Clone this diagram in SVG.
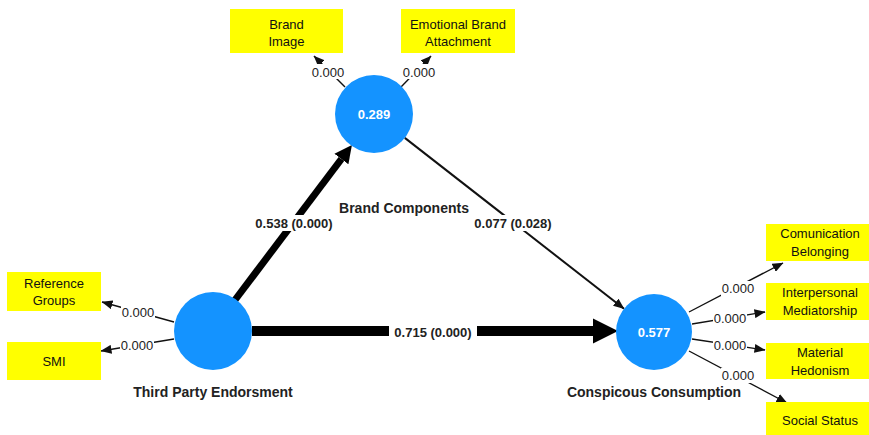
<svg xmlns="http://www.w3.org/2000/svg" width="869" height="435" viewBox="0 0 869 435">
<defs>
<style>
.box{fill:#ffff00;}
.bt{font-family:"Liberation Sans",Arial,sans-serif;font-size:13px;fill:#111;text-anchor:middle;}
.circ{fill:#1493ff;}
.cv{font-family:"Liberation Sans",Arial,sans-serif;font-size:13px;font-weight:bold;fill:#fff;text-anchor:middle;}
.nl{font-family:"Liberation Sans",Arial,sans-serif;font-size:14px;font-weight:bold;fill:#222;text-anchor:middle;}
.pl{font-family:"Liberation Sans",Arial,sans-serif;font-size:13px;font-weight:bold;fill:#222;text-anchor:middle;}
.ll{font-family:"Liberation Sans",Arial,sans-serif;font-size:13px;fill:#222;text-anchor:middle;}
.thin{stroke:#111;stroke-width:1.4;fill:none;}
.bg{fill:#fff;}
</style>
<marker id="ah" viewBox="0 0 11 9" refX="10.5" refY="4.5" markerWidth="11" markerHeight="9" markerUnits="userSpaceOnUse" orient="auto">
<path d="M0,0 L11,4.5 L0,9 z" fill="#111"/>
</marker>
<marker id="ahk" viewBox="0 0 10 10" refX="0" refY="5" markerWidth="2.5" markerHeight="2.6" markerUnits="strokeWidth" orient="auto">
<path d="M0,0 L10,5 L0,10 z" fill="#000"/>
</marker>
</defs>
<rect width="869" height="435" fill="#fff"/>

<g id="connectors">
<line x1="235" y1="300" x2="341.4" y2="159" stroke="#000" stroke-width="7" marker-end="url(#ahk)"/>
<line x1="252" y1="331" x2="593" y2="331" stroke="#000" stroke-width="10" marker-end="url(#ahk)"/>
<line x1="404.8" y1="137.9" x2="624" y2="308.7" stroke="#111" stroke-width="2" marker-end="url(#ah)"/>
<line class="thin" x1="345" y1="87" x2="314" y2="56" marker-end="url(#ah)"/>
<line class="thin" x1="401" y1="87" x2="431" y2="56" marker-end="url(#ah)"/>
<line class="thin" x1="174" y1="322" x2="102" y2="302" marker-end="url(#ah)"/>
<line class="thin" x1="174" y1="339" x2="101" y2="351" marker-end="url(#ah)"/>
<line class="thin" x1="689" y1="312" x2="783" y2="263" marker-end="url(#ah)"/>
<line class="thin" x1="692" y1="324" x2="765" y2="312" marker-end="url(#ah)"/>
<line class="thin" x1="692" y1="339" x2="765" y2="350" marker-end="url(#ah)"/>
<line class="thin" x1="689" y1="351" x2="787" y2="403" marker-end="url(#ah)"/>
<rect class="bg" x="254" y="215" width="80" height="16"/>
<text class="pl" x="294" y="228">0.538 (0.000)</text>
<rect class="bg" x="473" y="215" width="81" height="16"/>
<text class="pl" x="513" y="228">0.077 (0.028)</text>
<rect class="bg" x="389" y="322" width="88" height="18"/>
<text class="pl" x="433" y="337">0.715 (0.000)</text>
<rect class="bg" x="311" y="64" width="34" height="15"/>
<text class="ll" x="328" y="77">0.000</text>
<rect class="bg" x="402" y="64" width="34" height="15"/>
<text class="ll" x="419" y="77">0.000</text>
<rect class="bg" x="121" y="305" width="34" height="15"/>
<text class="ll" x="138" y="317">0.000</text>
<rect class="bg" x="120" y="338" width="34" height="15"/>
<text class="ll" x="137" y="350">0.000</text>
<rect class="bg" x="721" y="281" width="34" height="15"/>
<text class="ll" x="738" y="293">0.000</text>
<rect class="bg" x="713" y="311" width="34" height="15"/>
<text class="ll" x="730" y="323">0.000</text>
<rect class="bg" x="713" y="338" width="34" height="15"/>
<text class="ll" x="730" y="350">0.000</text>
<rect class="bg" x="721" y="368" width="34" height="15"/>
<text class="ll" x="738" y="380">0.000</text>
</g>

<g id="brand-components">
<circle class="circ" cx="374" cy="114" r="39"/>
<text class="cv" x="374" y="119">0.289</text>
<text class="nl" x="404" y="213">Brand Components</text>
</g>
<g id="third-party-endorsment">
<circle class="circ" cx="213" cy="331" r="39"/>
<text class="nl" x="213" y="397">Third Party Endorsment</text>
</g>
<g id="conspicous-consumption">
<circle class="circ" cx="654" cy="332" r="38"/>
<text class="cv" x="654" y="337">0.577</text>
<text class="nl" x="654" y="397">Conspicous Consumption</text>
</g>

<g id="brand-image">
<rect class="box" x="230" y="9" width="113" height="44"/>
<text class="bt" x="286.5" y="29">Brand</text>
<text class="bt" x="286.5" y="46">Image</text>
</g>
<g id="emotional-brand-attachment">
<rect class="box" x="401" y="9" width="114" height="44"/>
<text class="bt" x="458" y="29">Emotional Brand</text>
<text class="bt" x="458" y="46">Attachment</text>
</g>
<g id="reference-groups">
<rect class="box" x="7" y="272" width="94" height="39"/>
<text class="bt" x="54" y="288">Reference</text>
<text class="bt" x="54" y="305">Groups</text>
</g>
<g id="smi">
<rect class="box" x="7" y="342" width="94" height="38"/>
<text class="bt" x="54" y="366">SMI</text>
</g>
<g id="comunication-belonging">
<rect class="box" x="766" y="224" width="108" height="37"/>
<text class="bt" x="820" y="238">Comunication</text>
<text class="bt" x="820" y="256">Belonging</text>
</g>
<g id="interpersonal-mediatorship">
<rect class="box" x="766" y="283" width="108" height="37"/>
<text class="bt" x="820" y="297">Interpersonal</text>
<text class="bt" x="820" y="315">Mediatorship</text>
</g>
<g id="material-hedonism">
<rect class="box" x="766" y="343" width="108" height="36"/>
<text class="bt" x="820" y="357">Material</text>
<text class="bt" x="820" y="375">Hedonism</text>
</g>
<g id="social-status">
<rect class="box" x="766" y="402" width="108" height="33"/>
<text class="bt" x="820" y="425">Social Status</text>
</g>
</svg>
